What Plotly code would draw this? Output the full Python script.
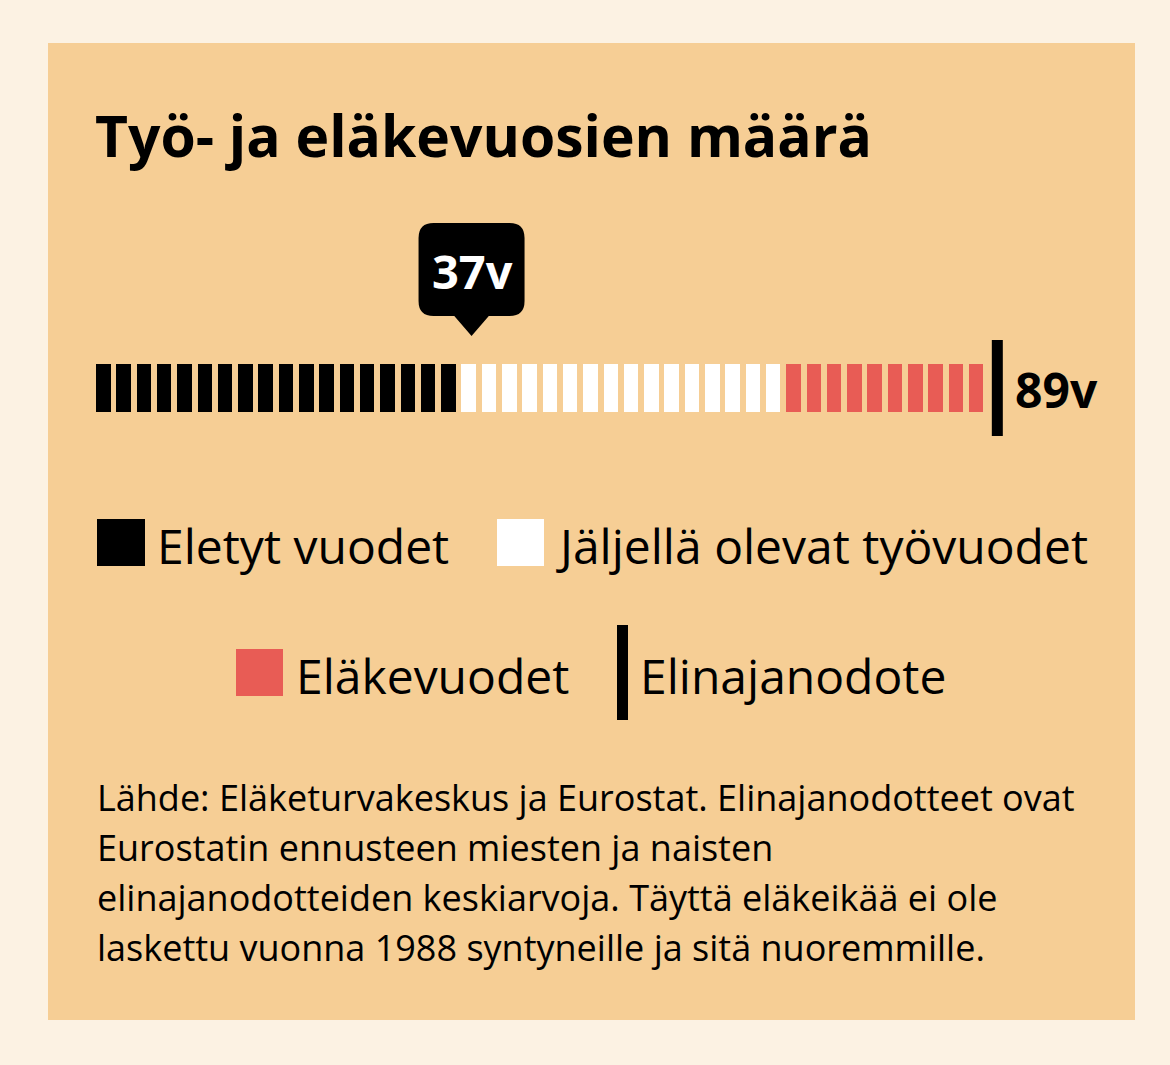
import plotly.graph_objects as go

# Data
current_age = 37          # eletyt vuodet
retirement_age = 68       # eläkeikä (arvio kuvasta)
life_expectancy = 89      # elinajanodote
years_per_bar = 2

title_text = "Työ- ja eläkevuosien määrä"
legend_labels = ["Eletyt vuodet", "Jäljellä olevat työvuodet", "Eläkevuodet", "Elinajanodote"]
source_lines = [
    "Lähde: Eläketurvakeskus ja Eurostat. Elinajanodotteet ovat",
    "Eurostatin ennusteen miesten ja naisten",
    "elinajanodotteiden keskiarvoja. Täyttä eläkeikää ei ole",
    "laskettu vuonna 1988 syntyneille ja sitä nuoremmille.",
]

BLACK = "#000000"
WHITE = "#ffffff"
RED = "#e85c55"
CARD = "#f6ce95"
PAGE = "#fcf2e3"
FONT = "Open Sans"

W, H = 1170, 1065
X0 = 96          # pixel of age 0
PX_PER_YEAR = 10.15


def px(x):
    return x / W


def py(y):
    return 1 - y / H


# bar segments (start age of each bar)
bar_starts = list(range(0, life_expectancy - 1, years_per_bar))
bar_colors = []
for s in bar_starts:
    if s + years_per_bar <= current_age:
        bar_colors.append(BLACK)
    elif s < retirement_age:
        bar_colors.append(WHITE)
    else:
        bar_colors.append(RED)

bar_w = 1.43
fig = go.Figure()
fig.add_trace(go.Bar(
    x=[s + bar_w / 2 for s in bar_starts],
    y=[-48] * len(bar_starts),
    base=412,
    width=bar_w,
    marker=dict(color=bar_colors, line=dict(width=0)),
    hoverinfo="skip",
))

# life expectancy line
fig.add_trace(go.Scatter(
    x=[life_expectancy - 0.2, life_expectancy - 0.2], y=[340, 436],
    mode="lines", line=dict(color=BLACK, width=11),
    hoverinfo="skip",
))

shapes = []
# card background
shapes.append(dict(type="rect", xref="paper", yref="paper",
                   x0=px(48), x1=px(1135), y0=py(1020), y1=py(43),
                   fillcolor=CARD, line=dict(width=0), layer="below"))

# tooltip box above current age
cx = current_age
hw = 53 / PX_PER_YEAR
r = 15 / PX_PER_YEAR
ry = 15
top, bot = 223, 316
path = (f"M {cx-hw+r},{top} L {cx+hw-r},{top} Q {cx+hw},{top} {cx+hw},{top+ry} "
        f"L {cx+hw},{bot-ry} Q {cx+hw},{bot} {cx+hw-r},{bot} "
        f"L {cx+1.7},{bot} L {cx},{bot+20} L {cx-1.7},{bot} "
        f"L {cx-hw+r},{bot} Q {cx-hw},{bot} {cx-hw},{bot-ry} "
        f"L {cx-hw},{top+ry} Q {cx-hw},{top} {cx-hw+r},{top} Z")
shapes.append(dict(type="path", xref="x", yref="y", path=path,
                   fillcolor=BLACK, line=dict(width=0)))

# legend markers
shapes.append(dict(type="rect", xref="paper", yref="paper",
                   x0=px(97), x1=px(145), y0=py(566), y1=py(519),
                   fillcolor=BLACK, line=dict(width=0)))
shapes.append(dict(type="rect", xref="paper", yref="paper",
                   x0=px(497), x1=px(544), y0=py(566), y1=py(519),
                   fillcolor=WHITE, line=dict(width=0)))
shapes.append(dict(type="rect", xref="paper", yref="paper",
                   x0=px(236), x1=px(283), y0=py(696), y1=py(649),
                   fillcolor=RED, line=dict(width=0)))
shapes.append(dict(type="rect", xref="paper", yref="paper",
                   x0=px(617), x1=px(628), y0=py(720), y1=py(625),
                   fillcolor=BLACK, line=dict(width=0)))

annotations = []


def add_text(x, y, text, size, color=BLACK, bold=False, xanchor="left"):
    annotations.append(dict(
        x=px(x), y=py(y), xref="paper", yref="paper", text=f"<b>{text}</b>" if bold else text,
        showarrow=False, xanchor=xanchor, yanchor="middle",
        font=dict(family=FONT, size=size, color=color),
    ))


add_text(93, 135, title_text, 57, bold=True)
add_text(472, 271, f"{current_age}v", 47, color=WHITE, bold=True, xanchor="center")
add_text(1013, 389, f"{life_expectancy}v", 48, bold=True)

add_text(155, 545, legend_labels[0], 48)
add_text(554, 545, legend_labels[1], 48)
add_text(294, 675, legend_labels[2], 48)
add_text(638, 675, legend_labels[3], 48)

for i, line in enumerate(source_lines):
    add_text(95, 797 + 50 * i, line, 36)

fig.update_layout(
    width=W, height=H,
    margin=dict(l=0, r=0, t=0, b=0),
    paper_bgcolor=PAGE,
    plot_bgcolor="rgba(0,0,0,0)",
    showlegend=False,
    xaxis=dict(range=[-X0 / PX_PER_YEAR, (W - X0) / PX_PER_YEAR], visible=False, fixedrange=True),
    yaxis=dict(range=[H, 0], visible=False, fixedrange=True),
    shapes=shapes,
    annotations=annotations,
    bargap=0,
)

# remove the default page margin so the figure sits at the window corner
fig.write_html("out.html", config=dict(displayModeBar=False),
               post_script="document.body.style.margin='0';document.body.style.background='#fcf2e3';")
